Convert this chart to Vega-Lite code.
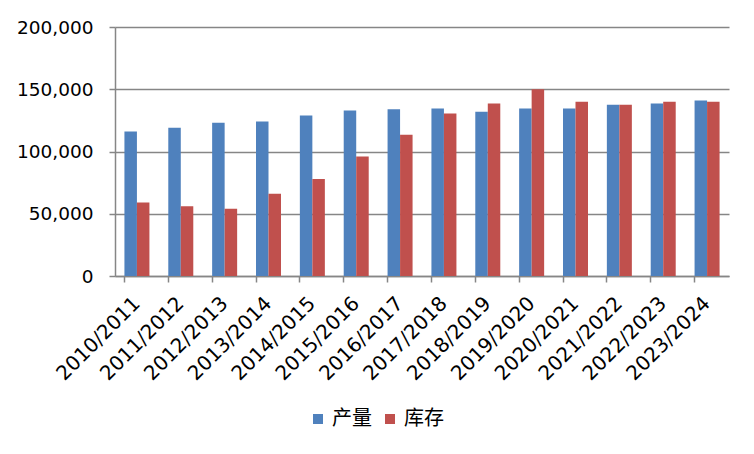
{
  "$schema": "https://vega.github.io/schema/vega-lite/v6.json",
  "width": 614,
  "height": 249,
  "autosize": {"type": "none"},
  "padding": {"left": 115, "top": 27, "right": 25, "bottom": 178},
  "background": "white",
  "config": {"view": {"stroke": null}},
  "data": {
    "values": [
      {"year": "2010/2011", "series": "产量", "value": 116000},
      {"year": "2010/2011", "series": "库存", "value": 59000},
      {"year": "2011/2012", "series": "产量", "value": 119000},
      {"year": "2011/2012", "series": "库存", "value": 56000},
      {"year": "2012/2013", "series": "产量", "value": 123000},
      {"year": "2012/2013", "series": "库存", "value": 54000},
      {"year": "2013/2014", "series": "产量", "value": 124000},
      {"year": "2013/2014", "series": "库存", "value": 66000},
      {"year": "2014/2015", "series": "产量", "value": 129000},
      {"year": "2014/2015", "series": "库存", "value": 78000},
      {"year": "2015/2016", "series": "产量", "value": 133000},
      {"year": "2015/2016", "series": "库存", "value": 96000},
      {"year": "2016/2017", "series": "产量", "value": 134000},
      {"year": "2016/2017", "series": "库存", "value": 113500},
      {"year": "2017/2018", "series": "产量", "value": 134500},
      {"year": "2017/2018", "series": "库存", "value": 130500},
      {"year": "2018/2019", "series": "产量", "value": 132000},
      {"year": "2018/2019", "series": "库存", "value": 138500},
      {"year": "2019/2020", "series": "产量", "value": 134500},
      {"year": "2019/2020", "series": "库存", "value": 150000},
      {"year": "2020/2021", "series": "产量", "value": 134500},
      {"year": "2020/2021", "series": "库存", "value": 140000},
      {"year": "2021/2022", "series": "产量", "value": 137500},
      {"year": "2021/2022", "series": "库存", "value": 137500},
      {"year": "2022/2023", "series": "产量", "value": 138500},
      {"year": "2022/2023", "series": "库存", "value": 140000},
      {"year": "2023/2024", "series": "产量", "value": 141000},
      {"year": "2023/2024", "series": "库存", "value": 140000}
    ]
  },
  "mark": {"type": "bar"},
  "encoding": {
    "x": {
      "field": "year",
      "type": "nominal",
      "sort": null,
      "scale": {"paddingInner": 0.43, "paddingOuter": 0.215},
      "axis": {
        "title": null,
        "bandPosition": 0,
        "labelAngle": -45,
        "labelAlign": "right",
        "labelBaseline": "middle",
        "labelFont": "DejaVu Sans",
        "labelFontSize": 20,
        "labelColor": "black",
        "labelPadding": 18,
        "tickSize": 6,
        "tickColor": "#868686",
        "tickWidth": 1.5,
        "domainColor": "#868686",
        "domainWidth": 1.5,
        "grid": false
      }
    },
    "xOffset": {"field": "series", "sort": ["产量", "库存"]},
    "y": {
      "field": "value",
      "type": "quantitative",
      "scale": {"domain": [0, 200000]},
      "axis": {
        "title": null,
        "values": [0, 50000, 100000, 150000, 200000],
        "format": ",.0f",
        "labelFont": "DejaVu Sans",
        "labelFontSize": 18.5,
        "labelColor": "black",
        "labelPadding": 16,
        "tickSize": 6,
        "tickColor": "#868686",
        "tickWidth": 1.5,
        "domainColor": "#868686",
        "domainWidth": 1.5,
        "gridColor": "#868686",
        "gridWidth": 1.5
      }
    },
    "color": {
      "field": "series",
      "type": "nominal",
      "scale": {"domain": ["产量", "库存"], "range": ["#4F81BD", "#C0504D"]},
      "legend": {
        "title": null,
        "orient": "none",
        "legendX": 193,
        "legendY": 382,
        "direction": "horizontal",
        "symbolType": "square",
        "symbolSize": 100,
        "symbolStrokeWidth": 0,
        "labelFont": "Noto Sans CJK SC",
        "labelFontSize": 20,
        "labelColor": "black",
        "labelOffset": 4,
        "columnPadding": 8,
        "padding": 0
      }
    }
  }
}
